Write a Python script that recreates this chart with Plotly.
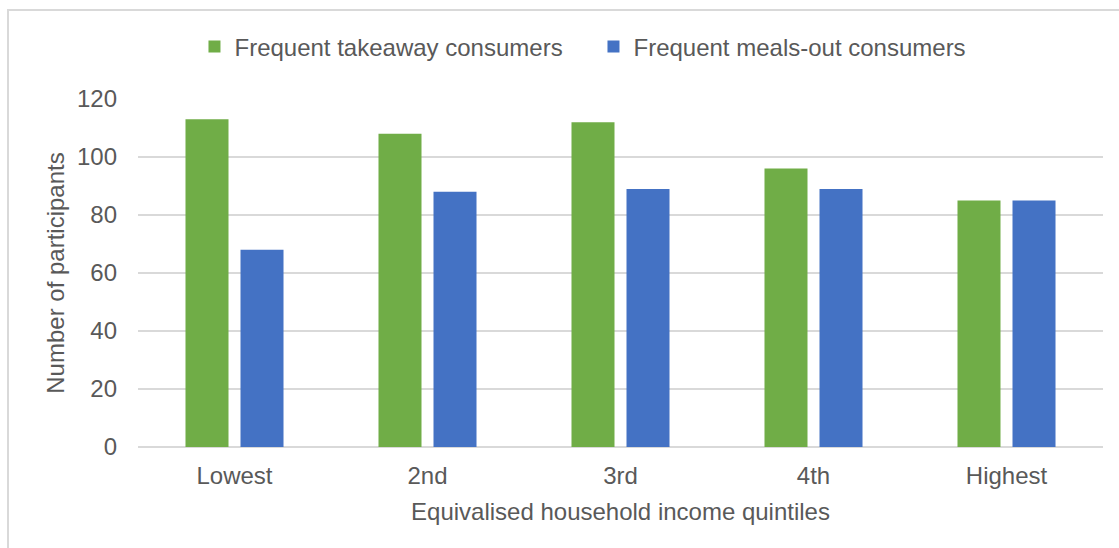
import plotly.graph_objects as go

categories = ["Lowest", "2nd", "3rd", "4th", "Highest"]
takeaway = [113, 108, 112, 96, 85]
meals_out = [68, 88, 89, 89, 85]
y_ticks = [0, 20, 40, 60, 80, 100, 120]

GREEN = "#70AD47"
BLUE = "#4472C4"
TXT = "#595959"
GRID = "#D9D9D9"
FONT = "Liberation Sans, Arial, sans-serif"

fig = go.Figure()
fig.add_trace(go.Bar(x=categories, y=takeaway, name="Frequent takeaway consumers",
                     marker=dict(color=GREEN, line=dict(width=0))))
fig.add_trace(go.Bar(x=categories, y=meals_out, name="Frequent meals-out consumers",
                     marker=dict(color=BLUE, line=dict(width=0))))

fig.update_layout(
    width=1119, height=548,
    margin=dict(l=138, r=16, t=99, b=101, autoexpand=False),
    paper_bgcolor="white", plot_bgcolor="white",
    font=dict(family=FONT, size=24, color=TXT),
    barmode="group", bargap=0.43, bargroupgap=0.218,
    showlegend=True,
    legend=dict(orientation="h", x=0.472, xanchor="center", y=1.15, yanchor="middle",
                font=dict(size=24, color=TXT), entrywidth=354, itemwidth=30,
                bgcolor="rgba(0,0,0,0)"),
    xaxis=dict(title=dict(text="Equivalised household income quintiles", standoff=15,
                          font=dict(size=24, color=TXT)),
               showgrid=False, showline=False, ticks="", ticklabelstandoff=12,
               tickfont=dict(size=24, color=TXT)),
    yaxis=dict(title=dict(text="Number of participants", standoff=5,
                          font=dict(size=24, color=TXT)),
               range=[0, 120], tickvals=y_ticks, showgrid=True, gridcolor=GRID,
               gridwidth=1.5, zeroline=True, zerolinecolor=GRID, zerolinewidth=1.5,
               showline=False, ticks="", ticklabelstandoff=20,
               tickfont=dict(size=24, color=TXT)),
    shapes=[dict(type="rect", xref="paper", yref="paper",
                 x0=-0.1347, x1=1.2, y0=-0.6, y1=1.256,
                 line=dict(color=GRID, width=2), fillcolor="rgba(0,0,0,0)", layer="below")],
)

fig.write_html("out.html", config={"displayModeBar": False},
               post_script="document.body.style.margin='0';document.body.style.overflow='hidden';")
